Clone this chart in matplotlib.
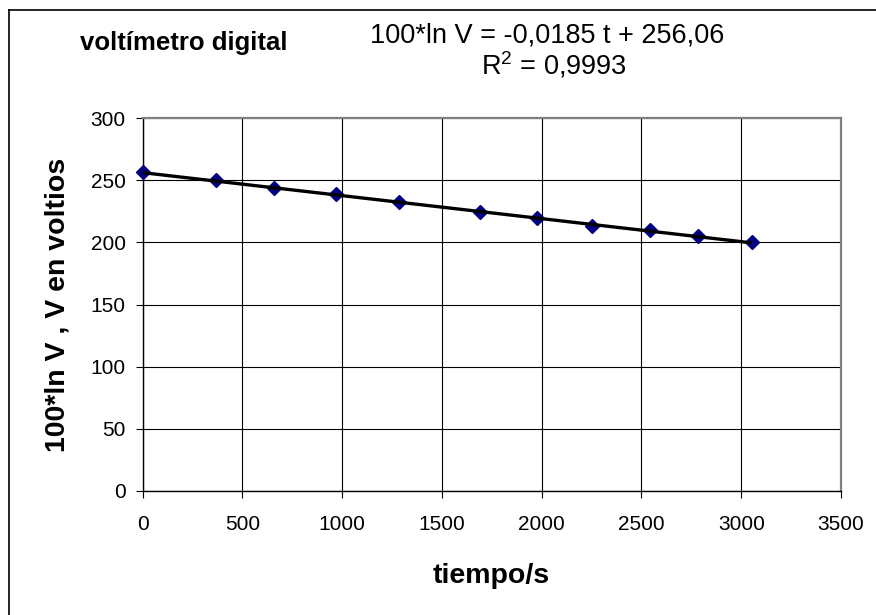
import matplotlib
matplotlib.use("Agg")
import matplotlib.pyplot as plt
from matplotlib.lines import Line2D
import numpy as np

plt.rcParams['font.family'] = ['Liberation Sans', 'DejaVu Sans']
plt.rcParams['mathtext.fontset'] = 'custom'
plt.rcParams['mathtext.rm'] = 'Liberation Sans'

# data
tiempo = [0, 370, 657, 972, 1283, 1690, 1979, 2251, 2543, 2784, 3053]
ln_v100 = [256.7, 250.0, 243.6, 238.5, 232.1, 224.1, 219.5, 213.4, 209.9, 205.3, 200.0]
slope = -0.0185
intercept = 256.06
x_ticks = [0, 500, 1000, 1500, 2000, 2500, 3000, 3500]
y_ticks = [0, 50, 100, 150, 200, 250, 300]

W, H = 876, 615
fig = plt.figure(figsize=(W / 100, H / 100), dpi=100)
fig.patch.set_facecolor('white')

ax = fig.add_axes([142.5 / W, 1 - 491 / H, (841 - 142.5) / W, (491 - 118) / H])
ax.set_xlim(0, 3500)
ax.set_ylim(0, 300)
ax.set_xticks(x_ticks)
ax.set_yticks(y_ticks)
ax.grid(True, color='black', linewidth=0.8)
ax.set_axisbelow(True)

for s in ['top', 'right']:
    ax.spines[s].set_color('#808080')
    ax.spines[s].set_linewidth(1.6)
for s in ['left', 'bottom']:
    ax.spines[s].set_color('black')
    ax.spines[s].set_linewidth(1.0)

ax.tick_params(axis='y', direction='out', length=5, width=0.8, pad=7, labelsize=15)
ax.tick_params(axis='x', direction='out', length=5, width=0.8, pad=12, labelsize=15)

t_fit = np.array([min(tiempo), max(tiempo)])
ax.plot(tiempo, ln_v100, linestyle='none', marker='D', markersize=7.5,
        color='#000080', zorder=3, clip_on=False)
ax.plot(t_fit, slope * t_fit + intercept, color='black', linewidth=2.4,
        zorder=4, solid_capstyle='butt')

fig.text(491.5 / W, 1 - 583 / H, 'tiempo/s', ha='center', va='baseline',
         fontsize=20.5, fontweight='bold')
fig.text(57.5 / W, 1 - 305 / H, '100*ln V , V en voltios', ha='center', va='center',
         rotation=90, fontsize=20.5, fontweight='bold')

fig.text(80 / W, 1 - 50 / H, 'voltímetro digital', ha='left', va='baseline',
         fontsize=18.5, fontweight='bold')
fig.text(547 / W, 1 - 43 / H, '100*ln V = -0,0185 t + 256,06', ha='center',
         va='baseline', fontsize=19.5)
fig.text(554 / W, 1 - 75 / H, r'R$^\mathregular{2}$ = 0,9993', ha='center',
         va='baseline', fontsize=19.5)

# outer chart-area border (cut at right and bottom)
fig.add_artist(Line2D([8.5 / W, 1.0], [1 - 9.5 / H, 1 - 9.5 / H],
                      transform=fig.transFigure, color='black', linewidth=1.2))
fig.add_artist(Line2D([8.5 / W, 8.5 / W], [0.0, 1 - 9.5 / H],
                      transform=fig.transFigure, color='black', linewidth=1.2))

fig.savefig('out.png', dpi=100)
